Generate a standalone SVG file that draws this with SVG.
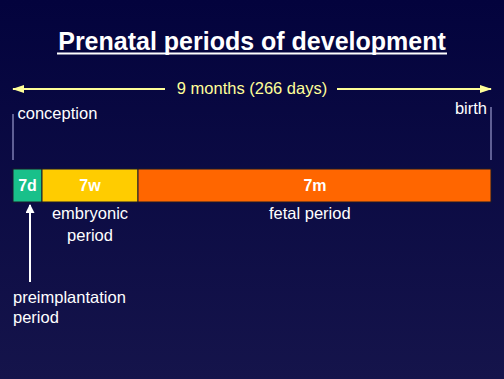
<svg xmlns="http://www.w3.org/2000/svg" width="504" height="379" viewBox="0 0 504 379">
<defs>
<linearGradient id="bg" x1="0" y1="0" x2="0" y2="1">
<stop offset="0" stop-color="#03033d"/>
<stop offset="1" stop-color="#15144b"/>
</linearGradient>
<marker id="ay" viewBox="0 0 12 8" refX="11" refY="4" markerWidth="12" markerHeight="8" markerUnits="userSpaceOnUse" orient="auto">
<path d="M0,0 L12,4 L0,8 z" fill="#ffff99"/>
</marker>
<marker id="aw" viewBox="0 0 10 10" refX="9" refY="5" markerWidth="10" markerHeight="9" markerUnits="userSpaceOnUse" orient="auto">
<path d="M0,0 L10,5 L0,10 z" fill="#ffffff"/>
</marker>
</defs>
<style>
text{font-family:"Liberation Sans",Arial,sans-serif;fill:#ffffff}
.t{font-size:16.5px}
.b{font-size:16px;font-weight:bold;text-anchor:middle}
.seg{stroke:#1a1a2a;stroke-width:1}
.tick{stroke:#7c7cb0;stroke-width:1.5}
.ya{stroke:#ffff99;stroke-width:2;fill:none}
</style>
<rect width="504" height="379" fill="url(#bg)"/>
<g id="title">
<text x="252" y="50" style="font-size:25px;font-weight:bold;text-anchor:middle">Prenatal periods of development</text>
<rect x="57" y="52.5" width="390" height="2" fill="#ffffff"/>
</g>
<g id="connectors">
<line class="ya" x1="165" y1="89" x2="13" y2="89" marker-end="url(#ay)"/>
<line class="ya" x1="337" y1="89" x2="491" y2="89" marker-end="url(#ay)"/>
<line class="tick" x1="13" y1="114" x2="13" y2="160"/>
<line class="tick" x1="491" y1="107" x2="491" y2="160"/>
<line x1="30" y1="282" x2="30" y2="205" stroke="#ffffff" stroke-width="2" marker-end="url(#aw)"/>
</g>
<g id="duration">
<text x="252" y="94" style="font-size:16.5px;fill:#ffff99;text-anchor:middle">9 months (266 days)</text>
</g>
<g id="conception"><text class="t" x="17.5" y="119">conception</text></g>
<g id="birth"><text class="t" x="487" y="114" text-anchor="end">birth</text></g>
<g id="seg-7d">
<rect class="seg" x="13" y="169" width="29" height="33" fill="#19c08a"/>
<text class="b" x="27.5" y="191">7d</text>
</g>
<g id="seg-7w">
<rect class="seg" x="42" y="169" width="96" height="33" fill="#ffcc00"/>
<text class="b" x="90" y="191">7w</text>
</g>
<g id="seg-7m">
<rect class="seg" x="138" y="169" width="353" height="33" fill="#ff6600"/>
<text class="b" x="315" y="191">7m</text>
</g>
<g id="embryonic">
<text class="t" x="90" y="219" text-anchor="middle">embryonic</text>
<text class="t" x="90" y="240.5" text-anchor="middle">period</text>
</g>
<g id="fetal"><text class="t" x="269" y="219">fetal period</text></g>
<g id="preimplantation">
<text class="t" x="13" y="303">preimplantation</text>
<text class="t" x="13" y="323">period</text>
</g>
</svg>
